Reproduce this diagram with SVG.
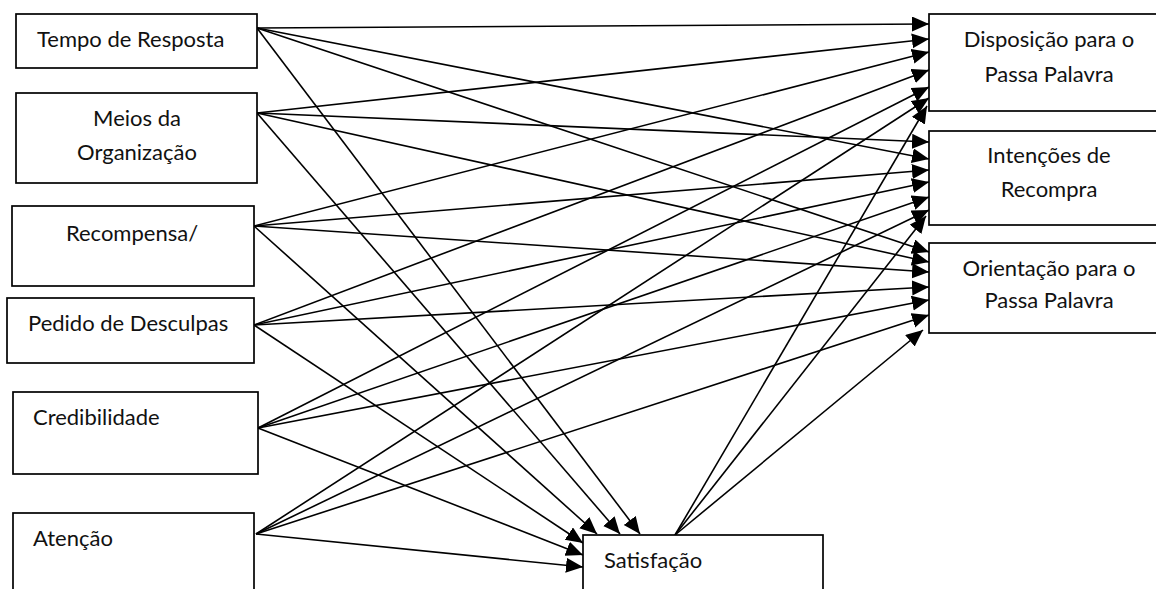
<svg xmlns="http://www.w3.org/2000/svg" width="1156" height="589" viewBox="0 0 1156 589">
<style>
.box{fill:#fff;stroke:#000;stroke-width:1.7}
.t{font-family:Lato,"Liberation Sans",sans-serif;font-size:22px;fill:#111}
.c{text-anchor:middle}
.ln{stroke:#000;stroke-width:1.6;fill:none;marker-end:url(#ah)}
</style>
<defs>
<marker id="ah" markerUnits="userSpaceOnUse" markerWidth="18" markerHeight="16" refX="17" refY="7.5" orient="auto">
<path d="M0,0 L17,7.5 L0,15 z" fill="#000"/>
</marker>
</defs>
<rect width="1156" height="589" fill="#fff"/>
<g id="connectors">
<!-- Tempo -->
<line class="ln" x1="257" y1="28" x2="929" y2="24"/>
<line class="ln" x1="257" y1="28" x2="929" y2="159"/>
<line class="ln" x1="257" y1="28" x2="929" y2="252"/>
<line class="ln" x1="257" y1="28" x2="640" y2="534"/>
<!-- Meios -->
<line class="ln" x1="257" y1="113" x2="929" y2="39"/>
<line class="ln" x1="257" y1="113" x2="929" y2="142"/>
<line class="ln" x1="257" y1="113" x2="929" y2="262"/>
<line class="ln" x1="257" y1="113" x2="620" y2="534"/>
<!-- Recompensa -->
<line class="ln" x1="254" y1="226" x2="929" y2="52"/>
<line class="ln" x1="254" y1="226" x2="929" y2="170"/>
<line class="ln" x1="254" y1="226" x2="929" y2="272"/>
<line class="ln" x1="254" y1="226" x2="597" y2="534"/>
<!-- Pedido -->
<line class="ln" x1="254" y1="325" x2="929" y2="70"/>
<line class="ln" x1="254" y1="325" x2="929" y2="182"/>
<line class="ln" x1="254" y1="325" x2="929" y2="287"/>
<line class="ln" x1="254" y1="325" x2="583" y2="543"/>
<!-- Credibilidade -->
<line class="ln" x1="258" y1="428" x2="929" y2="87"/>
<line class="ln" x1="258" y1="428" x2="929" y2="197"/>
<line class="ln" x1="258" y1="428" x2="929" y2="300"/>
<line class="ln" x1="258" y1="428" x2="583" y2="555"/>
<!-- Atencao -->
<line class="ln" x1="256" y1="534" x2="929" y2="98"/>
<line class="ln" x1="256" y1="534" x2="929" y2="210"/>
<line class="ln" x1="256" y1="534" x2="929" y2="315"/>
<line class="ln" x1="256" y1="534" x2="583" y2="567"/>
<!-- Satisfacao -->
<line class="ln" x1="675" y1="535" x2="927" y2="106"/>
<line class="ln" x1="675" y1="535" x2="926" y2="216"/>
<line class="ln" x1="675" y1="535" x2="923" y2="330"/>
</g>
<g id="n-tempo"><rect class="box" x="16" y="14" width="241" height="54"/><text class="t" x="37" y="47">Tempo de Resposta</text></g>
<g id="n-meios"><rect class="box" x="16" y="93" width="241" height="90"/><text class="t c" x="137" y="126">Meios da</text><text class="t c" x="137" y="160">Organização</text></g>
<g id="n-recompensa"><rect class="box" x="12" y="206" width="242" height="80"/><text class="t c" x="132" y="241">Recompensa/</text></g>
<g id="n-pedido"><rect class="box" x="7" y="298" width="247" height="65"/><text class="t" x="28" y="331">Pedido de Desculpas</text></g>
<g id="n-cred"><rect class="box" x="13" y="392" width="245" height="82"/><text class="t" x="33" y="425">Credibilidade</text></g>
<g id="n-atencao"><rect class="box" x="13" y="513" width="241" height="90"/><text class="t" x="33" y="546">Atenção</text></g>
<g id="n-disposicao"><rect class="box" x="929" y="14" width="240" height="97"/><text class="t c" x="1049" y="47">Disposição para o</text><text class="t c" x="1049" y="82">Passa Palavra</text></g>
<g id="n-intencoes"><rect class="box" x="929" y="131" width="240" height="94"/><text class="t c" x="1049" y="163">Intenções de</text><text class="t c" x="1049" y="197">Recompra</text></g>
<g id="n-orientacao"><rect class="box" x="929" y="243" width="240" height="90"/><text class="t c" x="1049" y="276">Orientação para o</text><text class="t c" x="1049" y="308">Passa Palavra</text></g>
<g id="n-satisfacao"><rect class="box" x="583" y="535" width="240" height="70"/><text class="t" x="604" y="568">Satisfação</text></g>
</svg>
